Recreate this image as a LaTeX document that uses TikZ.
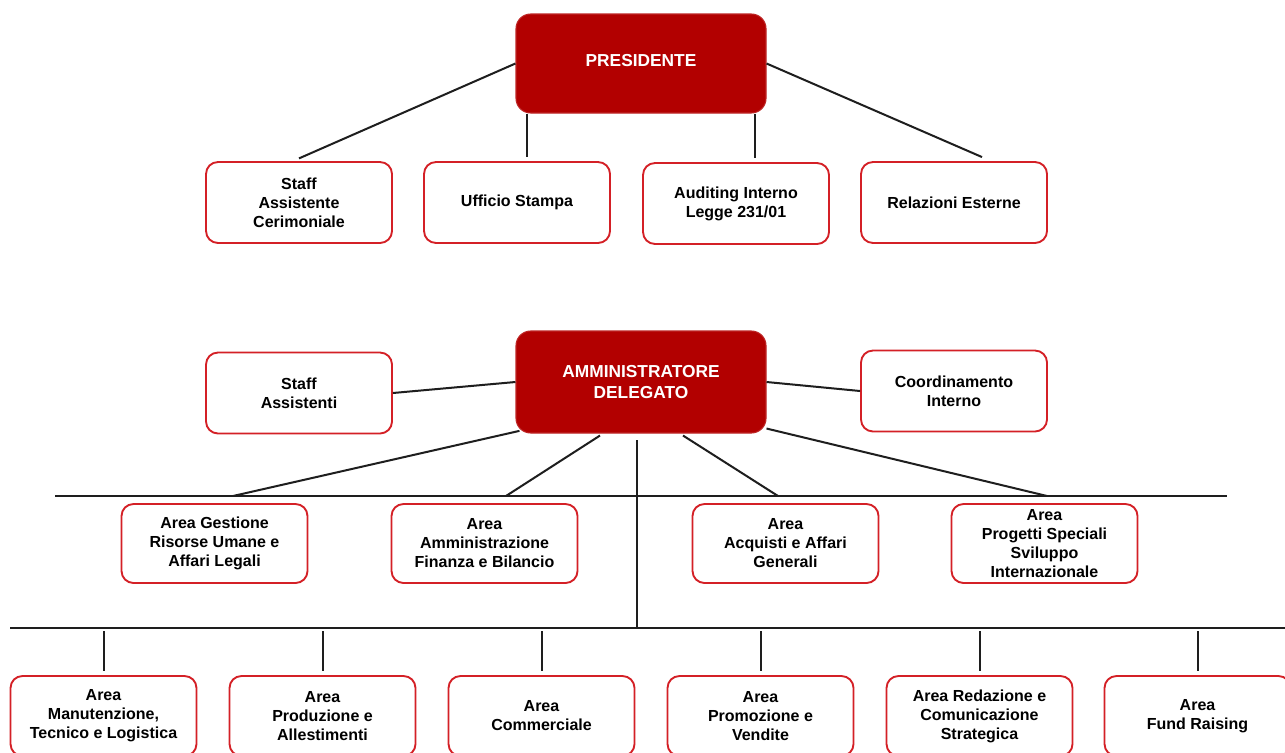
\documentclass[tikz,border=0pt]{standalone}
\usepackage{fontspec}
\setmainfont{Liberation Sans}
\usetikzlibrary{calc}
\definecolor{darkred}{RGB}{178,0,0}
\definecolor{boxred}{RGB}{212,32,38}
\definecolor{linegray}{RGB}{30,30,30}
\begin{document}
\begin{tikzpicture}[x=0.75pt,y=-0.75pt,
  topbox/.style={draw=darkred!85!white, line width=0.8pt, fill=darkred, rounded corners=11pt,
    minimum width=187.5pt, inner sep=0pt, align=center, text=white,
    font=\fontsize{13}{15.75}\selectfont\bfseries},
  unitbox/.style={draw=boxred, line width=1.4pt, fill=white, rounded corners=9pt,
    minimum width=139.5pt, minimum height=60.75pt, inner sep=0pt, align=center,
    font=\fontsize{12}{14.25}\selectfont\bfseries},
  conn/.style={draw=linegray, line width=1.5pt}]
\clip (0,0) rectangle (1285,753);
\fill[white] (0,0) rectangle (1285,753);

% top level
\node[topbox, minimum height=74.25pt, text depth=4.5pt] (pres) at (641,63.5) {PRESIDENTE};
\node[unitbox] (sac) at (299,202.5) {Staff\\Assistente\\Cerimoniale};
\node[unitbox] (uff) at (517,202.5) {Ufficio Stampa};
\node[unitbox] (aud) at (736,203.5) {Auditing Interno\\Legge 231/01};
\node[unitbox] (rel) at (954,202.5) {Relazioni Esterne};

\draw[conn] (pres.west) -- ([yshift=2pt]sac.north);
\draw[conn] (pres.east) -- ([xshift=21pt,yshift=3pt]rel.north);
\draw[conn] ([xshift=9pt]pres.south west) -- ([xshift=9pt,yshift=3pt]pres.south west |- uff.north);
\draw[conn] ([xshift=-9pt]pres.south east) -- ([xshift=-9pt,yshift=3pt]pres.south east |- aud.north);

% amministratore delegato
\node[topbox, minimum height=76.5pt] (ad) at (641,382) {AMMINISTRATORE\\DELEGATO};
\node[unitbox] (sa) at (299,393) {Staff\\Assistenti};
\node[unitbox] (ci) at (954,391) {Coordinamento\\Interno};
\draw[conn] (sa.east) -- (ad.west);
\draw[conn] (ad.east) -- (ci.west);

% first bus
\coordinate (busAL) at (55,496);
\coordinate (busAR) at (1227,496);
\coordinate (b1) at (233,496);
\coordinate (b2) at (506,496);
\coordinate (b3) at (778,496);
\coordinate (b4) at (1047,496);
\draw[conn] (busAL) -- (busAR);
\draw[conn] ([shift={(3pt,2pt)}]ad.south west) -- (b1);
\draw[conn] ([xshift=-30.75pt,yshift=-1.5pt]ad.south) -- (b2);
\draw[conn] ([xshift=31.5pt,yshift=-1.5pt]ad.south) -- (b3);
\draw[conn] ([yshift=3.75pt]ad.south east) -- (b4);

\node[unitbox, minimum height=59.25pt] (ges) at (214.5,543.5) {Area Gestione\\Risorse Umane e\\Affari Legali};
\node[unitbox, minimum height=59.25pt] (amm) at (484.5,543.5) {Area\\Amministrazione\\Finanza e Bilancio};
\node[unitbox, minimum height=59.25pt] (acq) at (785.5,543.5) {Area\\Acquisti e Affari\\Generali};
\node[unitbox, minimum height=59.25pt] (prog) at (1044.5,543.5) {Area\\Progetti Speciali\\Sviluppo\\Internazionale};

% trunk and second bus
\coordinate (busBL) at (10,628);
\coordinate (busBR) at (1285,628);
\coordinate (tr) at (637,628);
\draw[conn] ([xshift=-3pt,yshift=-5pt]ad.south) -- (tr);
\draw[conn] (busBL) -- (busBR);

\node[unitbox, minimum height=60pt] (m1) at (103.5,716) {Area\\Manutenzione,\\Tecnico e Logistica};
\node[unitbox, minimum height=60pt] (m2) at (322.5,716) {Area\\Produzione e\\Allestimenti};
\node[unitbox, minimum height=60pt] (m3) at (541.5,716) {Area\\Commerciale};
\node[unitbox, minimum height=60pt] (m4) at (760.5,716) {Area\\Promozione e\\Vendite};
\node[unitbox, minimum height=60pt] (m5) at (979.5,716) {Area Redazione e\\Comunicazione\\Strategica};
\node[unitbox, minimum height=60pt] (m6) at (1197.5,716) {Area\\Fund Raising};

\foreach \n in {m1,m2,m3,m4,m5,m6}{
  \draw[conn] ([yshift=33pt]\n.north) -- ([yshift=3pt]\n.north);
}
\end{tikzpicture}
\end{document}
